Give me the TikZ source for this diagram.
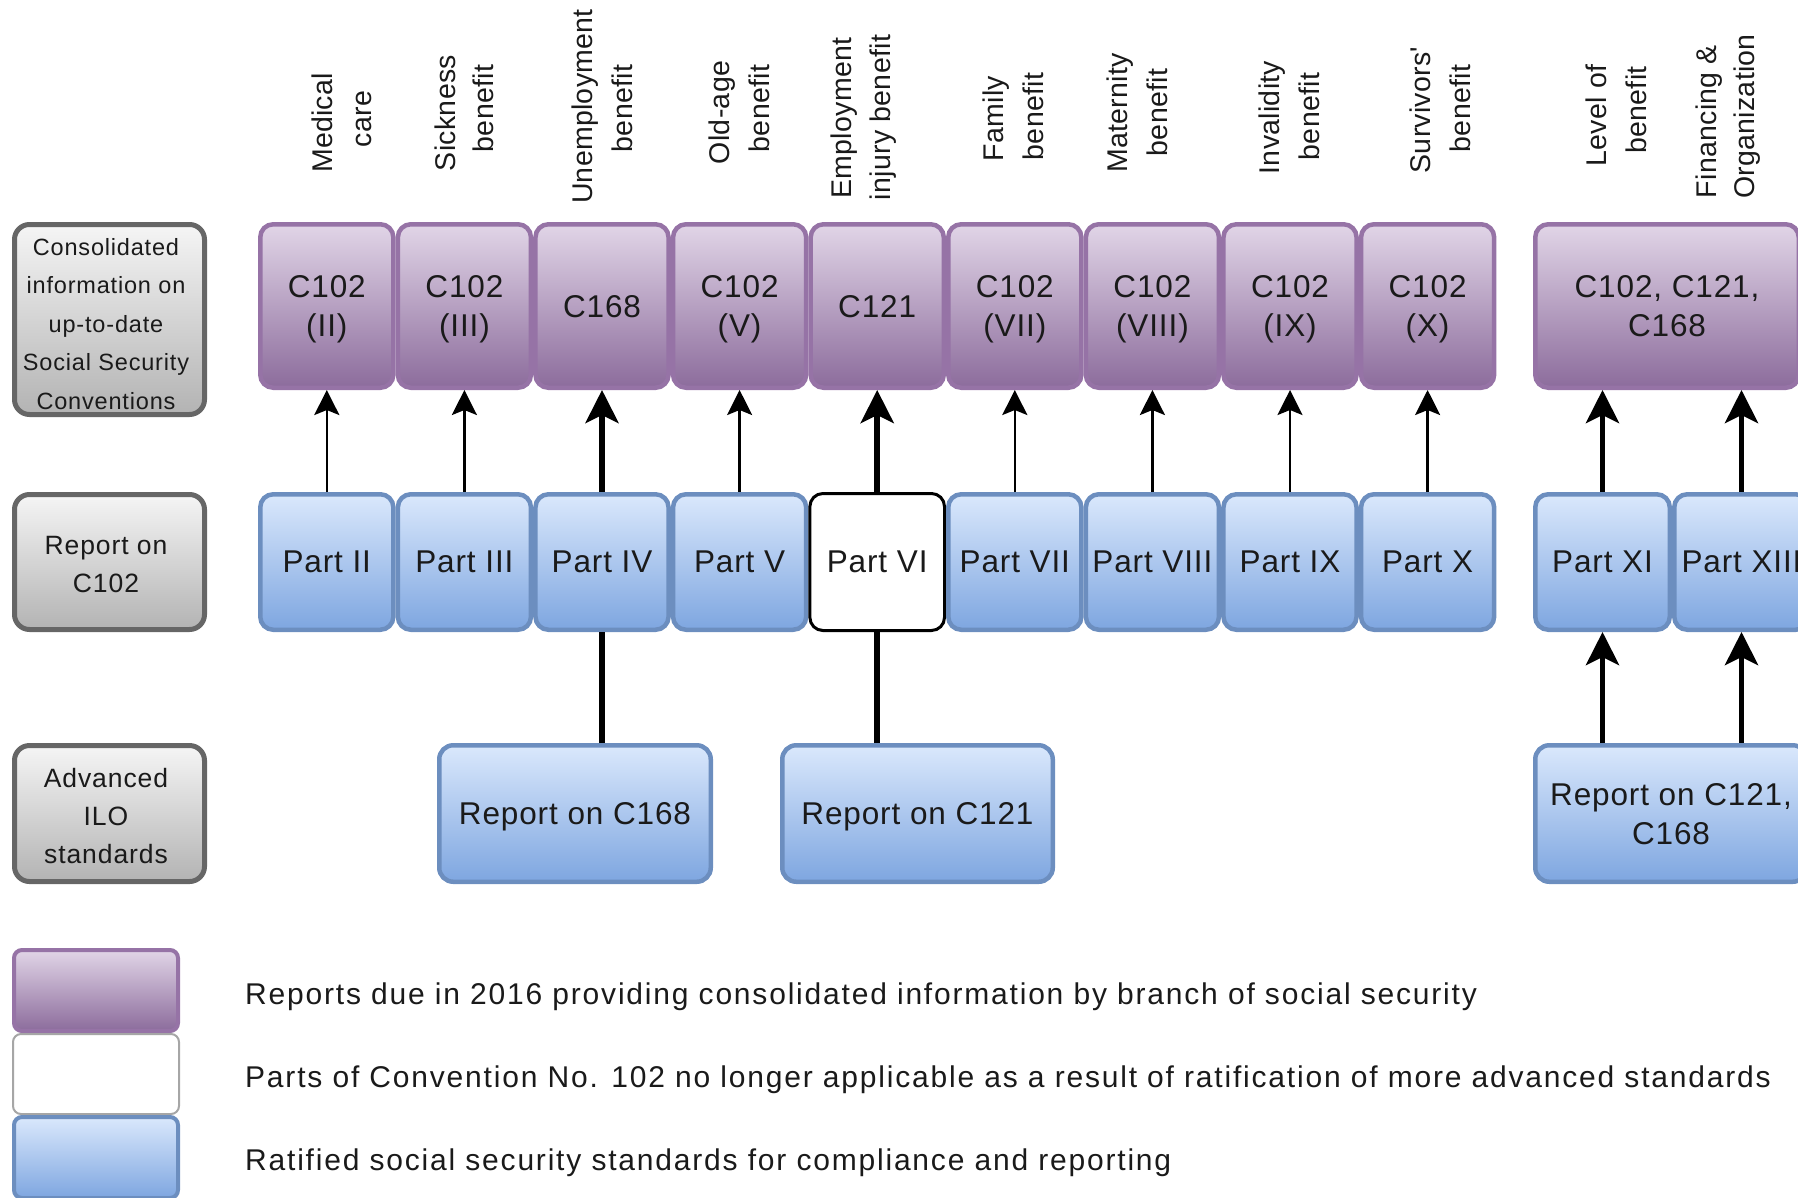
\documentclass[tikz,border=0pt]{standalone}
\usepackage{fontspec}
\setmainfont{Liberation Sans}
\newfontfamily\boxfont{Liberation Sans}[LetterSpace=2.8]
\newfontfamily\sidefont{Liberation Sans}[LetterSpace=3.5]
\newfontfamily\legfont{Liberation Sans}[LetterSpace=6.0]
\newfontfamily\hdrfont{Liberation Sans}[LetterSpace=1]
\usetikzlibrary{arrows.meta}

\definecolor{purTop}{HTML}{E1D5E7}
\definecolor{purBot}{HTML}{8C6C9C}
\definecolor{purLine}{HTML}{9673A6}
\definecolor{bluTop}{HTML}{DAE8FC}
\definecolor{bluBot}{HTML}{7EA6E0}
\definecolor{bluLine}{HTML}{6C8EBF}
\definecolor{grTop}{HTML}{F5F5F5}
\definecolor{grBot}{HTML}{B3B3B3}
\definecolor{grLine}{HTML}{666666}
\definecolor{txt}{HTML}{1A1A1A}

\tikzset{
  cell/.style={rounded corners=13pt, line width=4.5pt, minimum width=133.1pt,
    inner sep=0pt, align=center, text=txt, text depth=0pt,
    font=\boxfont\fontsize{31.5}{39}\selectfont},
  purplecell/.style={cell, draw=purLine, top color=purTop, bottom color=purBot,
    minimum height=163.5pt},
  bluecell/.style={cell, draw=bluLine, top color=bluTop, bottom color=bluBot,
    minimum height=135.5pt},
  voidcell/.style={cell, draw=black, fill=white, line width=3pt,
    minimum width=134.6pt, minimum height=137pt},
  reportcell/.style={bluecell, rounded corners=14pt, minimum height=136.5pt},
  sidebox/.style={rounded corners=15pt, line width=5pt, draw=grLine,
    top color=grTop, bottom color=grBot, minimum width=190pt, inner sep=0pt},
  sidetext/.style={inner sep=0pt, align=center, text=txt,
    font=\sidefont\fontsize{26.5}{38}\selectfont},
  hdr/.style={rotate=90, anchor=base, inner sep=0pt, text=txt,
    font=\hdrfont\fontsize{28.5}{36}\selectfont},
  legtext/.style={anchor=base west, inner sep=0pt, text=txt,
    font=\legfont\fontsize{30}{36}\selectfont},
  thinarrow/.style={line width=2.6pt, -{Stealth[length=25pt,width=25pt,inset=5pt]}},
  thickarrow/.style={line width=5.5pt, -{Stealth[length=33pt,width=33pt,inset=8pt]}},
  thickline/.style={line width=5.5pt}
}

\begin{document}
\begin{tikzpicture}[x=1pt,y=-1pt]
\useasboundingbox (0,0) rectangle (1798,1197);

% row labels on the left
\node[sidebox, minimum height=190pt] (s1) at (109.5,319.5) {};
\node[sidebox, minimum height=135pt] (s2) at (109.5,562) {};
\node[sidebox, minimum height=136pt] (s3) at (109.5,813.5) {};
\node[sidetext, font=\sidefont\fontsize{23.5}{38.5}\selectfont] (s1t)
  at ([shift={(-3.5,4.5)}]s1.center)
  {Consolidated\\information on\\up-to-date\\Social Security\\Conventions};
\node[sidetext] (s2t) at ([shift={(-3.5,2.5)}]s2.center) {Report on\\C102};
\node[sidetext] (s3t) at ([shift={(-3.5,3)}]s3.center) {Advanced\\ILO\\standards};

% branch headers (rotated)
\node[hdr] (h2a) at (332,123) {Medical};
\node[hdr] (h2b) at (371,119) {care};
\node[hdr] (h3a) at (455,113) {Sickness};
\node[hdr] (h3b) at (493,108.5) {benefit};
\node[hdr] (h4a) at (592,106.5) {Unemployment};
\node[hdr] (h4b) at (632,108.5) {benefit};
\node[hdr] (h5a) at (729,112.5) {Old-age};
\node[hdr] (h5b) at (769,108.5) {benefit};
\node[hdr] (h6a) at (851,118) {Employment};
\node[hdr] (h6b) at (890,117.5) {injury benefit};
\node[hdr] (h7a) at (1003,118.5) {Family};
\node[hdr] (h7b) at (1043,116.5) {benefit};
\node[hdr] (h8a) at (1127,113) {Maternity};
\node[hdr] (h8b) at (1167,112.5) {benefit};
\node[hdr] (h9a) at (1279,117.5) {Invalidity};
\node[hdr] (h9b) at (1319,116.5) {benefit};
\node[hdr] (h10a) at (1430,110) {Survivors'};
\node[hdr] (h10b) at (1470,108.5) {benefit};
\node[hdr] (h11a) at (1606,115.5) {Level of};
\node[hdr] (h11b) at (1646,110) {benefit};
\node[hdr] (h13a) at (1716,121.5) {Financing \&};
\node[hdr] (h13b) at (1754,116.5) {Organization};

% consolidated reports by branch
\node[purplecell] (c2) at (326.8,306) {C102\\(II)};
\node[purplecell] (c3) at (464.4,306) {C102\\(III)};
\node[purplecell] (c4) at (602.0,306) {C168};
\node[purplecell] (c5) at (739.6,306) {C102\\(V)};
\node[purplecell] (c6) at (877.2,306) {C121};
\node[purplecell] (c7) at (1014.8,306) {C102\\(VII)};
\node[purplecell] (c8) at (1152.4,306) {C102\\(VIII)};
\node[purplecell] (c9) at (1290.0,306) {C102\\(IX)};
\node[purplecell] (c10) at (1427.6,306) {C102\\(X)};
\node[purplecell, minimum width=263.5pt] (c11) at (1667,306) {C102, C121,\\C168};

% parts of Convention No. 102
\node[bluecell] (p2) at (326.8,562) {Part II};
\node[bluecell] (p3) at (464.4,562) {Part III};
\node[bluecell] (p4) at (602.0,562) {Part IV};
\node[bluecell] (p5) at (739.6,562) {Part V};
\node[voidcell] (p6) at (877.2,562) {Part VI};
\node[bluecell] (p7) at (1014.8,562) {Part VII};
\node[bluecell] (p8) at (1152.4,562) {Part VIII};
\node[bluecell] (p9) at (1290.0,562) {Part IX};
\node[bluecell] (p10) at (1427.6,562) {Part X};
\node[bluecell, minimum width=134.5pt] (p11) at (1602.5,562) {Part XI};
\node[bluecell, minimum width=134.5pt] (p13) at (1741.5,562) {Part XIII};

% advanced standards
\node[reportcell, minimum width=271.5pt] (r168) at (575,813.5) {Report on C168};
\node[reportcell, minimum width=270.5pt] (r121) at (917.5,813.5) {Report on C121};
\node[reportcell, minimum width=271.5pt] (rboth) at (1671,813.5) {Report on C121,\\C168};

% connectors
\draw[thinarrow] (p2.north) -- (c2.south);
\draw[thinarrow] (p3.north) -- (c3.south);
\draw[thickarrow] (p4.north) -- (c4.south);
\draw[thinarrow] (p5.north) -- (c5.south);
\draw[thickarrow] (p6.north) -- (c6.south);
\draw[thinarrow] (p7.north) -- (c7.south);
\draw[thinarrow] (p8.north) -- (c8.south);
\draw[thinarrow] (p9.north) -- (c9.south);
\draw[thinarrow] (p10.north) -- (c10.south);
\draw[thickarrow] (p11.north) -- (p11.north |- c11.south);
\draw[thickarrow] (p13.north) -- (p13.north |- c11.south);
\draw[thickline] (r168.north -| p4.south) -- (p4.south);
\draw[thickline] (r121.north -| p6.south) -- (p6.south);
\draw[thickarrow] (rboth.north -| p11.south) -- (p11.south);
\draw[thickarrow] (rboth.north -| p13.south) -- (p13.south);

% legend
\node[rounded corners=8pt, line width=4pt, draw=purLine, top color=purTop,
  bottom color=purBot, minimum width=164pt, minimum height=81pt] (lg1) at (96,990.5) {};
\node[rounded corners=8pt, line width=2pt, draw=black!35, fill=white,
  minimum width=166pt, minimum height=80pt] (lg2) at (96,1074) {};
\node[rounded corners=8pt, line width=4pt, draw=bluLine, top color=bluTop,
  bottom color=bluBot, minimum width=164pt, minimum height=81pt] (lg3) at (96,1157.5) {};
\node[legtext] (t1) at (245,1004) {Reports due in 2016 providing consolidated information by branch of social security};
\node[legtext] (t2) at (245,1087) {Parts of Convention No. 102 no longer applicable as a result of ratification of more advanced standards};
\node[legtext] (t3) at (245,1170) {Ratified social security standards for compliance and reporting};
\end{tikzpicture}
\end{document}
